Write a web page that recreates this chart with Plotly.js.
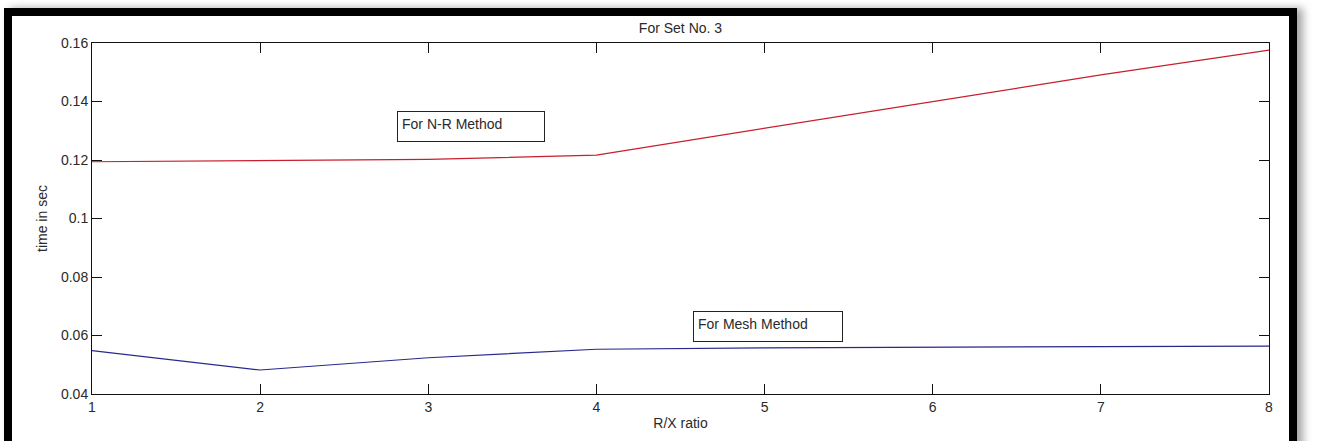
<!DOCTYPE html>
<html>
<head>
<meta charset="utf-8">
<script src="https://cdn.plot.ly/plotly-3.0.1.min.js"></script>
<style>
  html, body { margin: 0; padding: 0; background: #ffffff; overflow: hidden; }
  #chart { position: absolute; left: 0; top: 0; width: 1317px; height: 441px; }
  #frame {
    position: absolute; left: 4px; top: 8px; width: 1293px; height: 450px;
    border: 8px solid #000; box-sizing: border-box; pointer-events: none;
    box-shadow: 6px 0 8px rgba(0,0,0,0.35);
  }
  #topstrip { position: absolute; left: 0; top: 0; width: 1317px; height: 8px; background: #f2f2f2; }
</style>
</head>
<body>
<div id="topstrip"></div>
<div id="chart"></div>
<div id="frame"></div>
<script>
const rxRatio = [1, 2, 3, 4, 5, 6, 7, 8];
const nrTime = [0.1194, 0.1197, 0.1202, 0.1217, 0.1309, 0.1399, 0.1491, 0.1576];
const meshTime = [0.0548, 0.0482, 0.0524, 0.0553, 0.0558, 0.0560, 0.0563, 0.0564];
const xTicks = [1, 2, 3, 4, 5, 6, 7, 8];
const yTicks = [0.04, 0.06, 0.08, 0.1, 0.12, 0.14, 0.16];
const yTickText = ['0.04', '0.06', '0.08', '0.1', '0.12', '0.14', '0.16'];

const font = { family: 'Liberation Sans, Arial, sans-serif', size: 14, color: '#2a2a2a' };

const traces = [
  { x: rxRatio, y: nrTime, type: 'scatter', mode: 'lines', name: 'For N-R Method',
    line: { color: 'rgb(200,30,45)', width: 1.2 } },
  { x: rxRatio, y: meshTime, type: 'scatter', mode: 'lines', name: 'For Mesh Method',
    line: { color: 'rgb(40,40,140)', width: 1.2 } }
];

const axisCommon = {
  showgrid: false, zeroline: false, showline: true, linecolor: '#111', linewidth: 1,
  mirror: 'ticks', ticks: 'inside', ticklen: 10, tickcolor: '#111', tickwidth: 1,
  tickfont: font
};

const layout = {
  width: 1317, height: 441,
  margin: { l: 92, r: 48, t: 43, b: 47 },
  paper_bgcolor: '#ffffff', plot_bgcolor: '#ffffff',
  showlegend: false,
  font: font,
  title: { text: 'For Set No. 3', font: font, x: 0.5167, xanchor: 'center', y: 0.9365, yanchor: 'middle' },
  xaxis: Object.assign({}, axisCommon, {
    range: [1, 8], tickvals: xTicks, ticktext: xTicks.map(String),
    title: { text: 'R/X ratio', font: font, standoff: 4 }
  }),
  yaxis: Object.assign({}, axisCommon, {
    range: [0.04, 0.16], tickvals: yTicks, ticktext: yTickText,
    title: { text: 'time in sec', font: font, standoff: 10 }
  }),
  annotations: [
    { x: 2.814, y: 0.13675, xref: 'x', yref: 'y', xanchor: 'left', yanchor: 'top',
      text: 'For N-R Method', showarrow: false, align: 'left', valign: 'top',
      width: 138, height: 21, borderpad: 4, bordercolor: '#222', borderwidth: 1,
      bgcolor: '#ffffff', font: font },
    { x: 4.574, y: 0.06838, xref: 'x', yref: 'y', xanchor: 'left', yanchor: 'top',
      text: 'For Mesh Method', showarrow: false, align: 'left', valign: 'top',
      width: 140, height: 21, borderpad: 4, bordercolor: '#222', borderwidth: 1,
      bgcolor: '#ffffff', font: font }
  ]
};

Plotly.newPlot('chart', traces, layout, { displayModeBar: false, staticPlot: true });
</script>
</body>
</html>
